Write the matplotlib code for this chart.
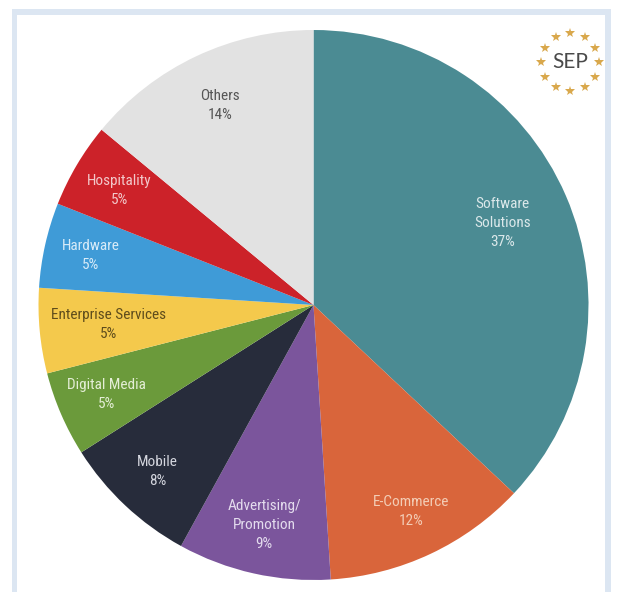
import numpy as np
import matplotlib
matplotlib.use("Agg")
import matplotlib.pyplot as plt
from matplotlib import font_manager
from matplotlib.patches import Rectangle

# 各行业占比（%），从正上方开始顺时针排列
sectors = ["Software\nSolutions", "E-Commerce", "Advertising/\nPromotion", "Mobile",
           "Digital Media", "Enterprise Services", "Hardware", "Hospitality", "Others"]
shares = [37, 12, 9, 8, 5, 5, 5, 5, 14]

wedge_colors = ["#4b8b93", "#d9653b", "#7b559c", "#272c3b", "#6b9a3b",
                "#f4c94c", "#3f9bd7", "#cc2229", "#e2e2e2"]
text_colors = ["#dbe8ea", "#f3cdb6", "#e4dcee", "#d4d6de", "#e4eed6",
               "#5e4c1c", "#d8ebf8", "#f2c8ca", "#555555"]
# 标签离圆心的距离（半径的比例）
label_radius = [0.75, 0.83, 0.82, 0.83, 0.82, 0.75, 0.83, 0.82, 0.80]

# 找一个窄体字体，没有就退回 Roboto
available = {f.name for f in font_manager.fontManager.ttflist}
label_font = "Roboto"
for name in ["Liberation Sans Narrow", "Roboto Condensed", "DejaVu Sans Condensed"]:
    if name in available:
        label_font = name
        break

fig = plt.figure(figsize=(6.17, 5.92), dpi=100)
fig.patch.set_facecolor("white")
ax = fig.add_axes([0, 0, 1, 1])

# 浅蓝色外框
ax.add_patch(Rectangle((12, -20), 599, 603, facecolor="#dce6f2", edgecolor="none", zorder=0))
ax.add_patch(Rectangle((17, -20), 588, 597, facecolor="white", edgecolor="none", zorder=0))

center = (313.5, 287)
radius = 275
wedges, _ = ax.pie(shares, colors=wedge_colors, startangle=90, counterclock=False,
                   center=center, radius=radius, frame=True,
                   wedgeprops=dict(linewidth=0))
ax.set_xlim(0, 617)
ax.set_ylim(0, 592)
ax.set_aspect("equal")
ax.axis("off")

for wedge, name, share, color, dist in zip(wedges, sectors, shares, text_colors, label_radius):
    mid_angle = np.deg2rad((wedge.theta1 + wedge.theta2) / 2)
    x = center[0] + radius * dist * np.cos(mid_angle)
    y = center[1] + radius * dist * np.sin(mid_angle)
    ax.text(x, y, f"{name}\n{share}%", ha="center", va="center", color=color,
            fontsize=11, family=label_font, linespacing=1.45, zorder=5)

# 右上角 SEP 标志
logo_x, logo_y = 570, 530
for k in range(12):
    angle = np.deg2rad(90 - k * 30)
    ax.plot(logo_x + 29 * np.cos(angle), logo_y + 29 * np.sin(angle), marker="*",
            markersize=7, color="#d9a84c", markeredgewidth=0, zorder=6)
ax.text(logo_x, logo_y, "SEP", ha="center", va="center", fontsize=15,
        color="#4a4a4a", family="Lato", zorder=6)

fig.savefig("out.png", dpi=100)
